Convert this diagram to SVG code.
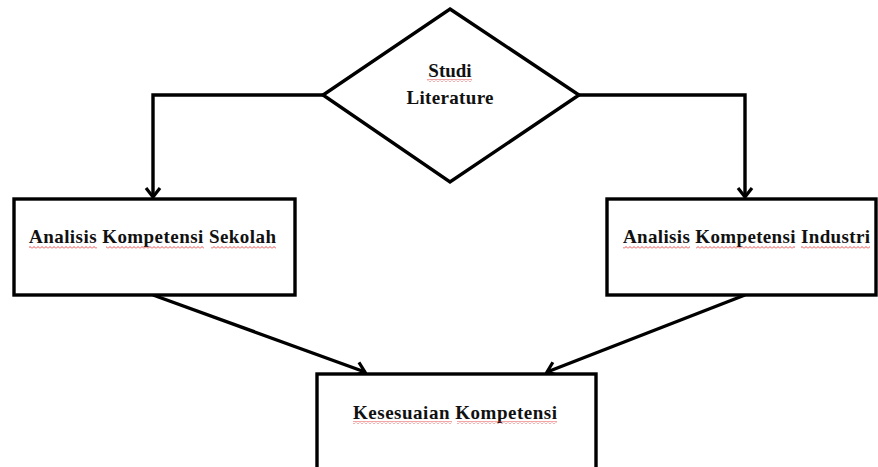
<svg xmlns="http://www.w3.org/2000/svg" width="878" height="467" viewBox="0 0 878 467">
<style>
.shape{fill:#fff;stroke:#000;stroke-width:3.4}
.conn{fill:none;stroke:#000;stroke-width:3.4}
.lbl{font-family:"Liberation Serif","Times New Roman",serif;font-weight:bold;font-size:19px;fill:#111}
.sq{fill:url(#squig)}
</style>
<defs>
<marker id="arr" markerUnits="userSpaceOnUse" viewBox="-12 -10 14 20" markerWidth="14" markerHeight="20" refX="0" refY="0" orient="auto">
<path d="M-9,-7 L0,0 L-9,7" fill="none" stroke="#000" stroke-width="3.2"/>
</marker>
<pattern id="squig" patternUnits="userSpaceOnUse" width="4" height="3">
<polyline points="0,2.5 2,0.5 4,2.5" fill="none" stroke="#e02020" stroke-width="0.8"/>
</pattern>
</defs>
<g id="connectors">
<path class="conn" d="M323,95 H153 V197" marker-end="url(#arr)"/>
<path class="conn" d="M579,95 H745 V197" marker-end="url(#arr)"/>
<path class="conn" d="M153,295 L365,372" marker-end="url(#arr)"/>
<path class="conn" d="M745,295 L547,372" marker-end="url(#arr)"/>
</g>
<g id="studi-literature">
<polygon class="shape" points="450,9 579,95 450,182 323,95"/>
<text class="lbl" x="450" y="77" text-anchor="middle">Studi</text>
<text class="lbl" x="450" y="104" text-anchor="middle" textLength="87" lengthAdjust="spacing">Literature</text>
<rect class="sq" x="427" y="79" width="45" height="3"/>
</g>
<g id="analisis-sekolah">
<rect class="shape" x="14" y="199" width="281" height="96"/>
<text class="lbl" x="29" y="243" textLength="247" lengthAdjust="spacing">Analisis Kompetensi Sekolah</text>
<rect class="sq" x="29" y="246" width="68" height="3"/>
<rect class="sq" x="106" y="246" width="98" height="3"/>
<rect class="sq" x="211" y="246" width="65" height="3"/>
</g>
<g id="analisis-industri">
<rect class="shape" x="607" y="199" width="269" height="96"/>
<text class="lbl" x="623" y="243" textLength="247" lengthAdjust="spacing">Analisis Kompetensi Industri</text>
<rect class="sq" x="623" y="246" width="67" height="3"/>
<rect class="sq" x="696" y="246" width="99" height="3"/>
<rect class="sq" x="801" y="246" width="69" height="3"/>
</g>
<g id="kesesuaian">
<rect class="shape" x="317" y="374" width="279" height="110"/>
<text class="lbl" x="353" y="419" textLength="204" lengthAdjust="spacing">Kesesuaian Kompetensi</text>
<rect class="sq" x="353" y="421" width="99" height="3"/>
<rect class="sq" x="457" y="421" width="100" height="3"/>
</g>
</svg>
